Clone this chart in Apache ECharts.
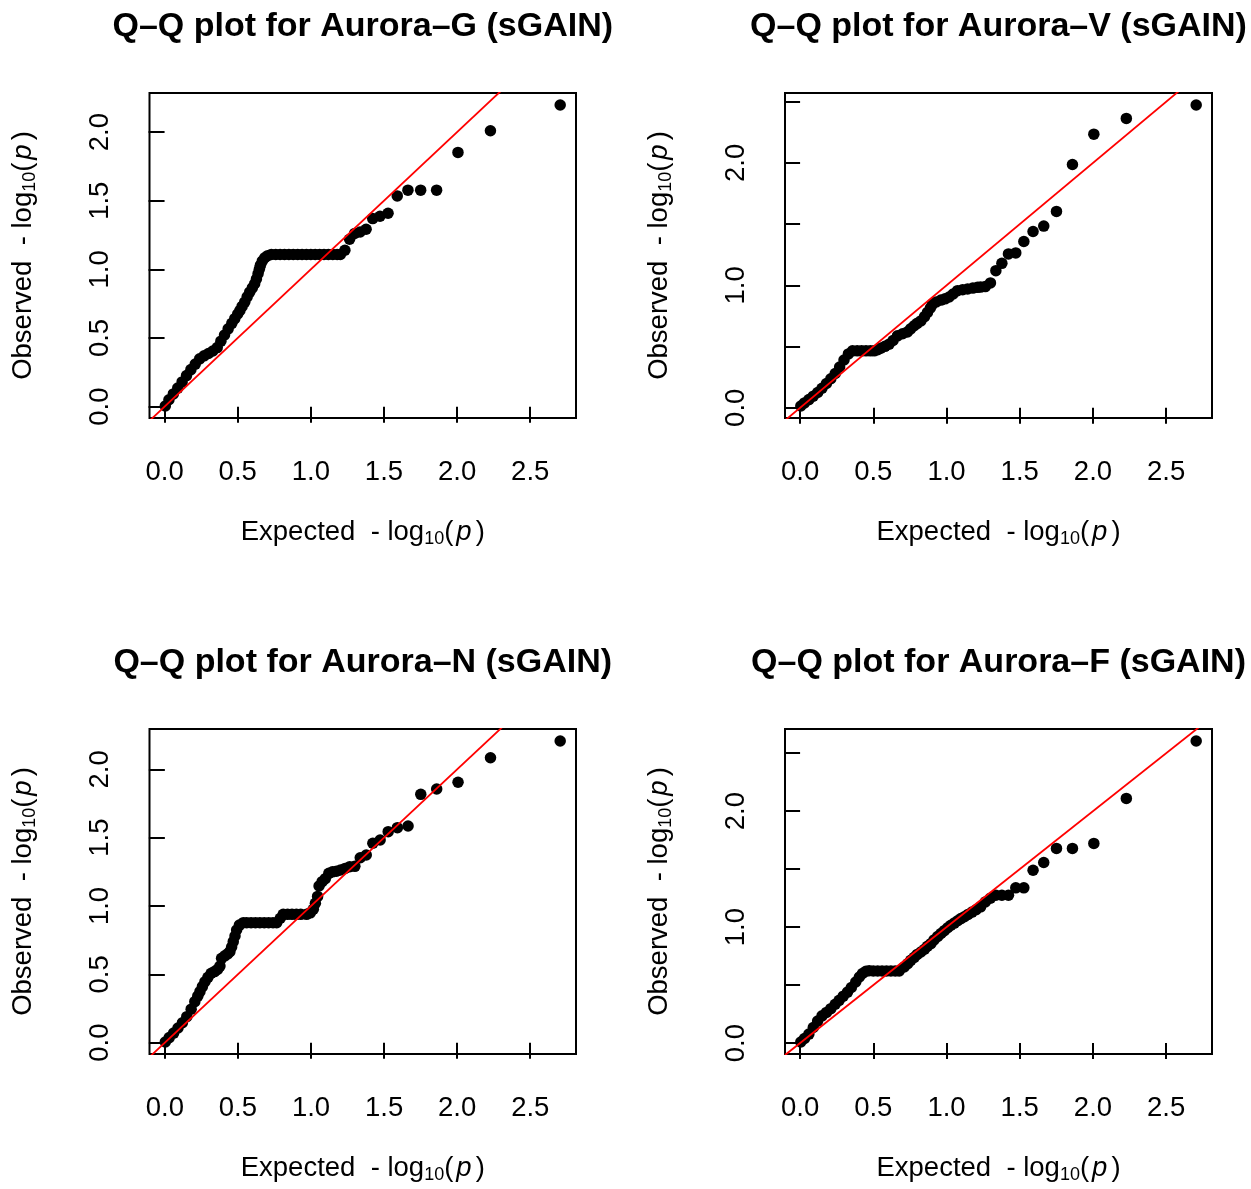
<!DOCTYPE html>
<html><head><meta charset="utf-8">
<script src="https://cdn.jsdelivr.net/npm/echarts/dist/echarts.min.js"></script>
<style>html,body{margin:0;padding:0;background:#fff}#c{width:1251px;height:1189px}</style>
</head><body><div id="c"></div>
<script>
// ---------------- data ----------------
const panelTitles = ['Q–Q plot for Aurora–G (sGAIN)','Q–Q plot for Aurora–V (sGAIN)','Q–Q plot for Aurora–N (sGAIN)','Q–Q plot for Aurora–F (sGAIN)'];
const xTickValues = [0, 0.5, 1, 1.5, 2, 2.5];
const yTickValuesG = [0, 0.5, 1, 1.5, 2];
const yLabelValuesG = [0, 0.5, 1, 1.5, 2];
const yTickValuesV = [0, 0.5, 1, 1.5, 2, 2.5];
const yLabelValuesV = [0, 1, 2];
const yTickValuesN = [0, 0.5, 1, 1.5, 2];
const yLabelValuesN = [0, 0.5, 1, 1.5, 2];
const yTickValuesF = [0, 0.5, 1, 1.5, 2, 2.5];
const yLabelValuesF = [0, 1, 2];

const expectedG = [0.005,0.03,0.06,0.09,0.12,0.15,0.18,0.21,0.24,0.27,0.30,0.33,0.36,0.385,0.41,0.435,0.46,0.48,0.50,0.515,0.53,0.548,0.565,0.582,0.60,0.616,0.628,0.639,0.648,0.655,0.668,0.685,0.705,0.73,0.76,0.79,0.82,0.85,0.88,0.91,0.94,0.97,1.00,1.03,1.06,1.09,1.12,1.15,1.18,1.202,1.233,1.265,1.300,1.337,1.378,1.423,1.473,1.528,1.591,1.664,1.751,1.860,2.006,2.228,2.705];
const observedG = [0.005,0.05,0.093,0.135,0.18,0.226,0.27,0.31,0.348,0.37,0.387,0.405,0.43,0.477,0.522,0.567,0.607,0.641,0.675,0.70,0.73,0.761,0.80,0.834,0.865,0.895,0.93,0.968,1.0,1.029,1.06,1.085,1.10,1.109,1.109,1.109,1.109,1.109,1.109,1.109,1.109,1.109,1.109,1.109,1.109,1.109,1.109,1.109,1.109,1.109,1.139,1.219,1.262,1.272,1.292,1.37,1.387,1.409,1.535,1.577,1.577,1.577,1.852,2.01,2.197];

const expectedV = [0.005,0.03,0.06,0.09,0.12,0.15,0.18,0.21,0.24,0.27,0.30,0.33,0.358,0.39,0.42,0.45,0.48,0.506,0.53,0.551,0.58,0.608,0.635,0.665,0.70,0.733,0.755,0.779,0.80,0.825,0.85,0.87,0.89,0.904,0.93,0.962,0.99,1.018,1.045,1.075,1.11,1.144,1.18,1.212,1.233,1.265,1.300,1.337,1.378,1.423,1.473,1.528,1.591,1.664,1.751,1.860,2.006,2.228,2.705];
const observedV = [0.015,0.04,0.067,0.095,0.125,0.16,0.198,0.237,0.28,0.333,0.39,0.44,0.465,0.465,0.465,0.465,0.465,0.465,0.475,0.487,0.502,0.52,0.55,0.588,0.605,0.62,0.645,0.67,0.69,0.71,0.745,0.779,0.815,0.847,0.865,0.88,0.89,0.905,0.93,0.957,0.965,0.97,0.978,0.984,0.986,0.99,1.02,1.12,1.18,1.257,1.265,1.358,1.44,1.484,1.604,1.987,2.235,2.364,2.473];

const expectedN = [0.003,0.03,0.06,0.09,0.12,0.15,0.18,0.205,0.225,0.24,0.257,0.274,0.295,0.317,0.34,0.36,0.377,0.388,0.41,0.43,0.445,0.457,0.468,0.48,0.491,0.51,0.537,0.56,0.59,0.62,0.65,0.68,0.71,0.74,0.765,0.79,0.81,0.84,0.87,0.90,0.93,0.97,0.995,1.016,1.03,1.045,1.055,1.076,1.098,1.122,1.147,1.174,1.202,1.233,1.265,1.300,1.337,1.378,1.423,1.473,1.528,1.591,1.664,1.751,1.860,2.006,2.228,2.705];
const observedN = [0.005,0.037,0.07,0.107,0.146,0.19,0.245,0.30,0.34,0.373,0.41,0.446,0.478,0.508,0.52,0.535,0.56,0.617,0.635,0.65,0.666,0.70,0.739,0.78,0.824,0.86,0.878,0.878,0.878,0.878,0.878,0.878,0.878,0.878,0.878,0.91,0.939,0.939,0.939,0.939,0.939,0.939,0.95,0.976,1.02,1.07,1.146,1.178,1.20,1.239,1.25,1.255,1.263,1.275,1.288,1.29,1.353,1.373,1.459,1.483,1.544,1.573,1.585,1.817,1.856,1.905,2.085,2.207];

const expectedF = [0.005,0.03,0.06,0.09,0.12,0.15,0.18,0.21,0.24,0.267,0.295,0.324,0.35,0.38,0.405,0.426,0.45,0.472,0.50,0.53,0.56,0.59,0.62,0.65,0.677,0.711,0.735,0.756,0.78,0.80,0.825,0.85,0.87,0.893,0.915,0.94,0.962,0.985,1.008,1.03,1.053,1.076,1.098,1.122,1.147,1.174,1.202,1.233,1.265,1.300,1.337,1.378,1.423,1.473,1.528,1.591,1.664,1.751,1.860,2.006,2.228,2.705];
const observedF = [0.01,0.04,0.078,0.135,0.19,0.235,0.265,0.297,0.335,0.369,0.405,0.44,0.48,0.527,0.57,0.60,0.62,0.625,0.622,0.622,0.622,0.622,0.622,0.622,0.622,0.656,0.685,0.714,0.74,0.765,0.786,0.81,0.835,0.858,0.89,0.92,0.945,0.97,0.995,1.016,1.035,1.055,1.074,1.09,1.11,1.13,1.15,1.175,1.218,1.25,1.275,1.275,1.275,1.339,1.339,1.491,1.558,1.679,1.679,1.722,2.11,2.605];

// ---------------- chart construction ----------------
const FONT = 'Liberation Sans';
const FS = 27.5;
const panels = [
  {title: panelTitles[0], ex: expectedG, ob: observedG, yt: yTickValuesG, yl: yLabelValuesG, grid: {left: 149.5, top: 93, width: 426.5, height: 325}},
  {title: panelTitles[1], ex: expectedV, ob: observedV, yt: yTickValuesV, yl: yLabelValuesV, grid: {left: 785, top: 93, width: 427, height: 325}},
  {title: panelTitles[2], ex: expectedN, ob: observedN, yt: yTickValuesN, yl: yLabelValuesN, grid: {left: 149.5, top: 729, width: 426.5, height: 325}},
  {title: panelTitles[3], ex: expectedF, ob: observedF, yt: yTickValuesF, yl: yLabelValuesF, grid: {left: 785, top: 729, width: 427, height: 325}}
];

function rng(arr) {
  const lo = Math.min(...arr), hi = Math.max(...arr), e = 0.04 * (hi - lo);
  return [lo - e, hi + e];
}
function richName(word) {
  return '{n|' + word + '  - log}{s|10}{n|(}{i|p}{n|)}';
}
const rich = {
  n: {fontSize: FS, fontFamily: FONT, color: '#000', lineHeight: 32},
  s: {fontSize: 18, fontFamily: FONT, color: '#000', lineHeight: 12, verticalAlign: 'bottom'},
  i: {fontSize: FS, fontFamily: FONT, color: '#000', lineHeight: 32, fontStyle: 'italic', padding: [0, 4, 0, 3]}
};

const option = {animation: false, backgroundColor: '#fff', title: [], grid: [], xAxis: [], yAxis: [], series: []};
panels.forEach((p, k) => {
  const xr = rng(p.ex), yr = rng(p.ob);
  option.grid.push(Object.assign({show: true, borderColor: '#000', borderWidth: 2, backgroundColor: 'transparent'}, p.grid));
  option.title.push({
    text: p.title, left: p.grid.left + p.grid.width / 2, top: p.grid.top - 83, textAlign: 'center', padding: 0,
    textStyle: {fontSize: 34, fontWeight: 'bold', fontFamily: FONT, color: '#000'}
  });
  option.xAxis.push({
    gridIndex: k, type: 'value', min: xr[0], max: xr[1],
    axisLine: {show: false}, splitLine: {show: false},
    axisTick: {show: true, length: 16, lineStyle: {color: '#000', width: 2}, customValues: xTickValues},
    axisLabel: {customValues: xTickValues, formatter: v => v.toFixed(1), margin: 40, fontSize: FS, fontFamily: FONT, color: '#000'},
    name: richName('Expected'), nameLocation: 'middle', nameGap: 98,
    nameTextStyle: {fontSize: FS, fontFamily: FONT, color: '#000', rich: rich}
  });
  option.yAxis.push({
    gridIndex: k, type: 'value', min: yr[0], max: yr[1],
    axisLine: {show: false}, splitLine: {show: false},
    axisTick: {show: true, length: 16, lineStyle: {color: '#000', width: 2}, customValues: p.yt},
    axisLabel: {customValues: p.yl, formatter: v => v.toFixed(1), rotate: 90, margin: 35, fontSize: FS, fontFamily: FONT, color: '#000'},
    name: richName('Observed'), nameLocation: 'middle', nameGap: 110, nameRotate: 90,
    nameTextStyle: {fontSize: FS, fontFamily: FONT, color: '#000', rich: rich}
  });
  option.series.push({
    type: 'scatter', xAxisIndex: k, yAxisIndex: k, silent: true, z: 2,
    data: p.ex.map((x, j) => [x, p.ob[j]]),
    symbol: 'circle', symbolSize: 11.5, itemStyle: {color: '#000', opacity: 1}
  });
  const lo = Math.min(xr[0], yr[0]), hi = Math.max(xr[1], yr[1]);
  option.series.push({
    type: 'line', xAxisIndex: k, yAxisIndex: k, silent: true, z: 3, clip: true,
    data: [[lo, lo], [hi, hi]], symbol: 'none', showSymbol: false,
    lineStyle: {color: '#ff0000', width: 1.8}
  });
});

const chart = echarts.init(document.getElementById('c'), null, {renderer: 'canvas'});
chart.setOption(option);
</script>
</body></html>
